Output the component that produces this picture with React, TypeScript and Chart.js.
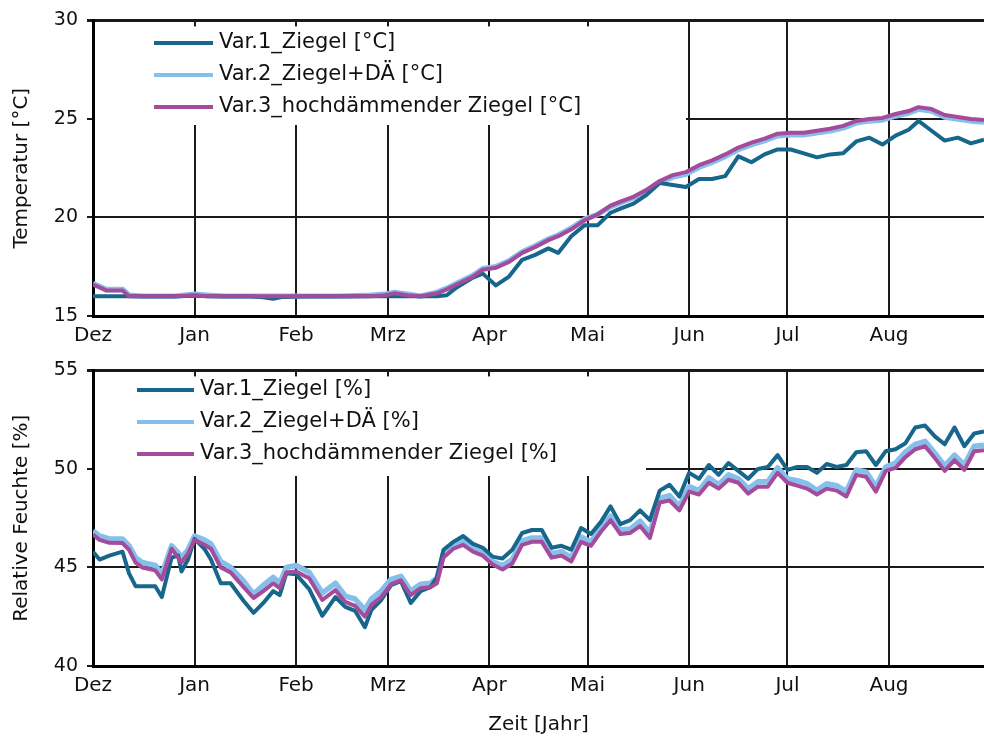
import React, { useEffect, useRef } from "react";
import { Chart, registerables } from "chart.js";
Chart.register(...registerables);

const FONT = '"DejaVu Sans", sans-serif';

const MONTH_LABELS = ["Dez", "Jan", "Feb", "Mrz", "Apr", "Mai", "Jun", "Jul", "Aug"];
const MONTH_START_DAYS = [0, 31, 62, 90, 121, 151, 182, 212, 243];
const X_MAX_DAY = 272;

const TEMP_LABELS = ["Var.1_Ziegel [°C]", "Var.2_Ziegel+DÄ [°C]", "Var.3_hochdämmender Ziegel [°C]"];
const RH_LABELS = ["Var.1_Ziegel [%]", "Var.2_Ziegel+DÄ [%]", "Var.3_hochdämmender Ziegel [%]"];
const COLORS = ["#17678c", "#86c0ea", "#a54b9b"];

const TEMP_DAYS = [
  0, 2, 4, 9, 11, 15, 20, 25, 31, 35,
  40, 48, 52, 55, 58, 65, 75, 85, 89, 92,
  96, 100, 105, 108, 111, 116, 119, 123, 127, 131,
  135, 139, 142, 146, 150, 154, 158, 161, 165, 169,
  173, 177, 181, 185, 189, 193, 197, 201, 205, 209,
  213, 217, 221, 225, 229, 233, 237, 241, 245, 249,
  252, 256, 260, 264, 268, 272,
];
const TEMP_VAR1 = [
  16.0, 16.0, 16.0, 16.0, 16.0, 16.0, 16.0, 16.0, 16.03, 16.0,
  16.0, 16.0, 15.95, 15.88, 15.97, 16.0, 16.0, 16.0, 16.0, 16.0,
  16.0, 16.0, 16.0, 16.05, 16.45, 16.95, 17.15, 16.55, 17.0, 17.85,
  18.1, 18.43, 18.2, 19.05, 19.6, 19.6, 20.24, 20.45, 20.7, 21.15,
  21.75, 21.65, 21.55, 21.95, 21.95, 22.1, 23.1, 22.8, 23.2, 23.45,
  23.45, 23.25, 23.05, 23.2, 23.26, 23.86, 24.05, 23.7, 24.15, 24.45,
  24.9, 24.4, 23.9, 24.05, 23.76, 23.95,
];
const TEMP_VAR2 = [
  16.65, 16.5, 16.35, 16.35, 16.05, 16.0, 16.0, 16.0, 16.1, 16.05,
  16.0, 16.0, 16.0, 16.0, 16.0, 16.0, 16.0, 16.05, 16.1, 16.2,
  16.1, 16.0, 16.2, 16.4, 16.65, 17.05, 17.4, 17.5, 17.8, 18.25,
  18.55, 18.9, 19.1, 19.45, 19.9, 20.15, 20.55, 20.75, 21.0, 21.35,
  21.8, 22.05, 22.2, 22.55, 22.8, 23.1, 23.45, 23.7, 23.9, 24.15,
  24.2, 24.2, 24.3, 24.4, 24.55, 24.8, 24.9, 24.95, 25.15, 25.3,
  25.5, 25.4, 25.1, 25.0, 24.9, 24.85,
];
const TEMP_VAR3 = [
  16.6, 16.45, 16.3, 16.3, 16.0, 16.0, 16.0, 16.0, 16.05, 16.0,
  16.0, 16.0, 16.0, 16.0, 16.0, 16.0, 16.0, 16.0, 16.05, 16.15,
  16.05, 16.0, 16.15, 16.35, 16.6, 17.0, 17.35, 17.45, 17.75, 18.2,
  18.5, 18.85, 19.05, 19.4, 19.85, 20.15, 20.6, 20.8, 21.05, 21.4,
  21.85, 22.15, 22.3, 22.65, 22.9, 23.2, 23.55, 23.8, 24.0, 24.25,
  24.3, 24.3, 24.4, 24.5, 24.65, 24.9, 25.0, 25.05, 25.25, 25.4,
  25.6, 25.5, 25.2, 25.1, 25.0, 24.95,
];

const RH_DAYS = [
  0, 2, 5, 9, 11, 13, 15, 19, 21, 24,
  26, 27, 29, 31, 34, 36, 39, 42, 46, 49,
  52, 55, 57, 59, 62, 66, 70, 74, 77, 80,
  83, 85, 88, 91, 94, 97, 100, 103, 105, 107,
  110, 113, 116, 119, 122, 125, 128, 131, 134, 137,
  140, 143, 146, 149, 152, 155, 158, 161, 164, 167,
  170, 173, 176, 179, 182, 185, 188, 191, 194, 197,
  200, 203, 206, 209, 212, 215, 218, 221, 224, 227,
  230, 233, 236, 239, 242, 245, 248, 251, 254, 257,
  260, 263, 266, 269, 272,
];
const RH_VAR1 = [
  45.8, 45.4, 45.6, 45.8, 44.7, 44.05, 44.05, 44.05, 43.5, 45.5,
  45.6, 44.8, 45.4, 46.45, 45.95, 45.4, 44.2, 44.2, 43.3, 42.7,
  43.2, 43.8, 43.6, 44.7, 44.65, 43.9, 42.55, 43.5, 43.0, 42.8,
  41.97, 42.85, 43.35, 44.1, 44.3, 43.2, 43.8, 44.0, 44.5, 45.9,
  46.3, 46.6, 46.2, 46.0, 45.55, 45.45, 45.9, 46.75, 46.9, 46.9,
  46.0, 46.1, 45.9, 47.0, 46.7, 47.3, 48.1, 47.2, 47.4, 47.9,
  47.4, 48.9, 49.2, 48.6, 49.8, 49.5, 50.2, 49.7, 50.3, 49.9,
  49.5, 50.0, 50.1, 50.7, 49.95, 50.1, 50.1, 49.8, 50.25, 50.1,
  50.2, 50.85, 50.9, 50.2, 50.9, 51.0, 51.3, 52.1, 52.2, 51.65,
  51.25, 52.1, 51.15, 51.8, 51.9,
];
const RH_VAR2 = [
  46.85, 46.6, 46.45, 46.45, 46.1, 45.5, 45.25, 45.1, 44.65, 46.1,
  45.75, 45.5, 45.9, 46.6, 46.4, 46.2, 45.3, 45.0, 44.3, 43.65,
  44.1, 44.5, 44.2, 45.0, 45.1, 44.75, 43.7, 44.2, 43.55, 43.4,
  42.85, 43.4, 43.8, 44.4, 44.55, 43.8, 44.15, 44.2, 44.45, 45.7,
  46.1, 46.35, 45.95, 45.75, 45.3, 45.1, 45.4, 46.35, 46.5, 46.5,
  45.7, 45.8, 45.5, 46.55, 46.3, 47.0, 47.6, 46.9, 46.95, 47.35,
  46.75, 48.5, 48.65, 48.1, 49.1, 48.9, 49.55, 49.2, 49.7, 49.5,
  49.0, 49.35, 49.35, 50.05, 49.5, 49.4, 49.25, 48.9, 49.25, 49.15,
  48.85, 49.95, 49.85, 49.1, 50.1, 50.3, 50.85, 51.25, 51.4, 50.8,
  50.15, 50.7, 50.2, 51.15, 51.2,
];
const RH_VAR3 = [
  46.67, 46.4, 46.25, 46.24, 45.9, 45.25, 45.0, 44.85, 44.4, 45.95,
  45.5, 45.25, 45.7, 46.4, 46.15, 45.95, 45.0, 44.75, 44.0, 43.45,
  43.8, 44.2, 43.95, 44.75, 44.8, 44.45, 43.35, 43.85, 43.25, 43.05,
  42.5, 43.1, 43.5, 44.15, 44.35, 43.6, 43.95, 44.0, 44.2, 45.5,
  45.95, 46.15, 45.8, 45.6, 45.15, 44.9, 45.2, 46.15, 46.3, 46.3,
  45.5, 45.6, 45.3, 46.3, 46.1, 46.8, 47.4, 46.7, 46.75, 47.1,
  46.5, 48.3, 48.4, 47.9, 48.85, 48.7, 49.3, 49.0, 49.45, 49.3,
  48.75, 49.1, 49.1, 49.8, 49.3, 49.15, 49.0, 48.7, 49.0, 48.9,
  48.6, 49.7, 49.6, 48.85, 49.9, 50.05, 50.6, 51.0, 51.15, 50.55,
  49.9, 50.45, 49.95, 50.9, 50.95,
];

type PanelCfg = {
  height: number;
  padTop: number;
  yMin: number;
  yMax: number;
  yTitle: string;
  xTitle?: string;
  labels: string[];
  days: number[];
  series: number[][];
  boxRight: number;
  boxBottom: number;
  legendX1: number;
  legendX2: number;
  legendY: number[];
};

function overlayPlugin(cfg: PanelCfg) {
  return {
    id: "overlay",
    beforeDatasetsDraw(chart: any) {
      const { ctx, chartArea: a } = chart;
      ctx.save();
      ctx.fillStyle = "#ffffff";
      ctx.fillRect(a.left + 2, a.top + 6, cfg.boxRight - a.left - 2, cfg.boxBottom - a.top - 6);
      ctx.restore();
    },
    afterDatasetsDraw(chart: any) {
      const { ctx, chartArea: a } = chart;
      ctx.save();
      cfg.labels.forEach((lab, i) => {
        const y = cfg.legendY[i];
        ctx.strokeStyle = COLORS[i];
        ctx.lineWidth = 4;
        ctx.beginPath();
        ctx.moveTo(cfg.legendX1, y);
        ctx.lineTo(cfg.legendX2, y);
        ctx.stroke();
        ctx.fillStyle = "#111";
        ctx.font = `21px ${FONT}`;
        ctx.textBaseline = "middle";
        ctx.textAlign = "left";
        ctx.fillText(lab, cfg.legendX2 + 6, y);
      });
      ctx.save();
      ctx.translate(22, (a.top + a.bottom) / 2);
      ctx.rotate(-Math.PI / 2);
      ctx.textAlign = "center";
      ctx.textBaseline = "middle";
      ctx.font = `20px ${FONT}`;
      ctx.fillStyle = "#111";
      ctx.fillText(cfg.yTitle, 0, 0);
      ctx.restore();
      if (cfg.xTitle) {
        ctx.textAlign = "center";
        ctx.textBaseline = "middle";
        ctx.font = `20px ${FONT}`;
        ctx.fillStyle = "#111";
        ctx.fillText(cfg.xTitle, (a.left + a.right) / 2, 375);
      }
      ctx.restore();
    },
  };
}

function Panel({ cfg, top }: { cfg: PanelCfg; top: number }) {
  const ref = useRef<HTMLCanvasElement | null>(null);
  useEffect(() => {
    if (!ref.current) return;
    const widths = [4, 5.5, 4];
    const orders = [2, 3, 1];
    const chart = new Chart(ref.current, {
      type: "line",
      data: {
        datasets: cfg.series.map((vals, i) => ({
          label: cfg.labels[i],
          data: cfg.days.map((d, k) => ({ x: d, y: vals[k] })),
          borderColor: COLORS[i],
          backgroundColor: COLORS[i],
          borderWidth: widths[i],
          pointRadius: 0,
          tension: 0,
          borderJoinStyle: "round" as const,
          order: orders[i],
        })),
      },
      options: {
        animation: false,
        responsive: false,
        devicePixelRatio: 1,
        layout: { padding: { top: cfg.padTop, left: 0, right: 0, bottom: 0 } },
        plugins: { legend: { display: false }, tooltip: { enabled: false } },
        scales: {
          x: {
            type: "linear",
            min: 0,
            max: X_MAX_DAY,
            afterBuildTicks: (scale: any) => {
              scale.ticks = MONTH_START_DAYS.map((v) => ({ value: v }));
            },
            afterFit: (scale: any) => {
              scale.height = cfg.height - 316;
            },
            ticks: {
              autoSkip: false,
              maxRotation: 0,
              padding: 8,
              color: "#111",
              font: { family: FONT, size: 20 },
              callback: (v: any) => MONTH_LABELS[MONTH_START_DAYS.indexOf(Number(v))] ?? "",
            },
            grid: { color: "#1a1a1a", lineWidth: 2, drawTicks: false },
            border: { color: "#000", width: 3 },
          },
          y: {
            min: cfg.yMin,
            max: cfg.yMax,
            afterFit: (scale: any) => {
              scale.width = 93;
            },
            ticks: {
              stepSize: 5,
              padding: 9,
              color: "#111",
              font: { family: FONT, size: 19 },
            },
            grid: {
              color: "#1a1a1a",
              lineWidth: (c: any) => (c.tick && c.tick.value === cfg.yMax ? 3 : 2),
              tickLength: 6,
            },
            border: { color: "#000", width: 3 },
          },
        },
      },
      plugins: [overlayPlugin(cfg)],
    });
    return () => chart.destroy();
  }, [cfg]);
  return (
    <canvas
      ref={ref}
      width={984}
      height={cfg.height}
      style={{ position: "absolute", left: 0, top, width: 984, height: cfg.height }}
    />
  );
}

const TOP_CFG: PanelCfg = {
  height: 350,
  padTop: 18,
  yMin: 15,
  yMax: 30,
  yTitle: "Temperatur [°C]",
  labels: TEMP_LABELS,
  days: TEMP_DAYS,
  series: [TEMP_VAR1, TEMP_VAR2, TEMP_VAR3],
  boxRight: 686,
  boxBottom: 125,
  legendX1: 154,
  legendX2: 213,
  legendY: [43, 75, 107],
};

const BOTTOM_CFG: PanelCfg = {
  height: 388,
  padTop: 17,
  yMin: 40,
  yMax: 55,
  yTitle: "Relative Feuchte [%]",
  xTitle: "Zeit [Jahr]",
  labels: RH_LABELS,
  days: RH_DAYS,
  series: [RH_VAR1, RH_VAR2, RH_VAR3],
  boxRight: 646,
  boxBottom: 126,
  legendX1: 137,
  legendX2: 194,
  legendY: [40, 72, 104],
};

export default function App() {
  return (
    <div style={{ position: "absolute", left: 0, top: 0, width: 984, height: 738, background: "#fff", fontFamily: FONT }}>
      <Panel cfg={TOP_CFG} top={0} />
      <Panel cfg={BOTTOM_CFG} top={350} />
    </div>
  );
}
